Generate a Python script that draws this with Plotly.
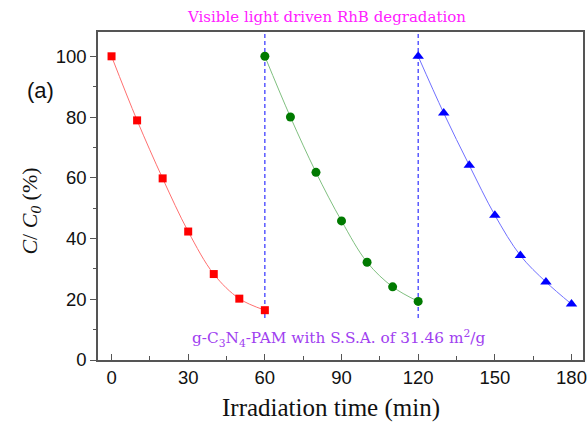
import plotly.graph_objects as go

# Data
t_red = [0, 10, 20, 30, 40, 50, 60]
c_red = [100, 78.9, 59.8, 42.3, 28.3, 20.2, 16.4]
t_green = [60, 70, 80, 90, 100, 110, 120]
c_green = [100, 80.0, 61.8, 45.8, 32.2, 24.1, 19.3]
t_blue = [120, 130, 140, 150, 160, 170, 180]
c_blue = [100, 81.3, 64.1, 47.7, 34.4, 25.7, 18.4]
cycle_breaks = [60, 120]
x_ticks = [0, 30, 60, 90, 120, 150, 180]
y_ticks = [0, 20, 40, 60, 80, 100]

fig = go.Figure()

for xb in cycle_breaks:
    fig.add_trace(go.Scatter(x=[xb, xb], y=[13.8, 108], mode="lines",
                             line=dict(color="#3030ff", width=1.2, dash="4px,3px"),
                             showlegend=False, hoverinfo="skip"))

fig.add_trace(go.Scatter(x=t_red, y=c_red, mode="lines+markers",
                         line=dict(color="#ff7070", width=1, shape="spline"),
                         marker=dict(symbol="square", size=8, color="#ff0000"),
                         showlegend=False))
fig.add_trace(go.Scatter(x=t_green, y=c_green, mode="lines+markers",
                         line=dict(color="#80c080", width=1, shape="spline"),
                         marker=dict(symbol="circle", size=9, color="#007a00"),
                         showlegend=False))
fig.add_trace(go.Scatter(x=t_blue, y=c_blue, mode="lines+markers",
                         line=dict(color="#7070ff", width=1, shape="spline"),
                         marker=dict(symbol="triangle-up", size=10, color="#0000ff"),
                         showlegend=False))

axis_common = dict(showgrid=False, zeroline=False, showline=True, linecolor="#555555",
                   linewidth=1.5, mirror=True, ticklabeloverflow="allow",
                   tickfont=dict(family="Liberation Sans, Arial", size=18.5, color="#111"))

fig.update_xaxes(range=[-5.3, 184.5], tickvals=x_ticks, ticks="inside", ticklen=6,
                 tickcolor="#555555",
                 minor=dict(dtick=15, tick0=15, ticks="inside", ticklen=4, tickcolor="#555555"),
                 **axis_common)
fig.update_yaxes(range=[0, 108], tickvals=y_ticks, ticks="outside", ticklen=6,
                 tickcolor="#555555",
                 minor=dict(dtick=10, tick0=10, ticks="outside", ticklen=3, tickcolor="#555555"),
                 **axis_common)

fig.add_annotation(text="Visible light driven RhB degradation", xref="paper", yref="paper",
                   x=0.471, y=1, yshift=15, xanchor="center", yanchor="middle", showarrow=False,
                   font=dict(family="DejaVu Serif", size=15, color="#ff20ff"))
fig.add_annotation(text="g-C<sub>3</sub>N<sub>4</sub>-PAM with S.S.A. of 31.46 m<sup>2</sup>/g",
                   x=89, y=7.2, xref="x", yref="y", xanchor="center", yanchor="middle",
                   showarrow=False,
                   font=dict(family="DejaVu Serif", size=15.3, color="#a040f0"))
fig.add_annotation(text="(a)", xref="paper", yref="y", x=-0.119, y=88.8,
                   xanchor="center", yanchor="middle", showarrow=False,
                   font=dict(family="Liberation Sans, Arial", size=22, color="#111"))
fig.add_annotation(text="<i>C</i>/ <i>C</i><sub><i>0</i></sub> (%)", xref="paper", yref="paper",
                   x=-0.139, y=0.5, yshift=-15, textangle=-90, xanchor="center",
                   yanchor="middle", showarrow=False,
                   font=dict(family="Liberation Serif, Times New Roman", size=22, color="#111"))
fig.add_annotation(text="Irradiation time (min)", xref="paper", yref="paper",
                   x=0.481, y=0, yshift=-48, xanchor="center", yanchor="middle", showarrow=False,
                   font=dict(family="Liberation Serif, Times New Roman", size=25, color="#111"))

fig.update_layout(width=588, height=422, margin=dict(l=98, r=1, t=32, b=62),
                  plot_bgcolor="white", paper_bgcolor="white")

fig.write_html("out.html", config={"displayModeBar": False},
               post_script="document.body.style.margin='0';document.body.style.overflow='hidden';")
